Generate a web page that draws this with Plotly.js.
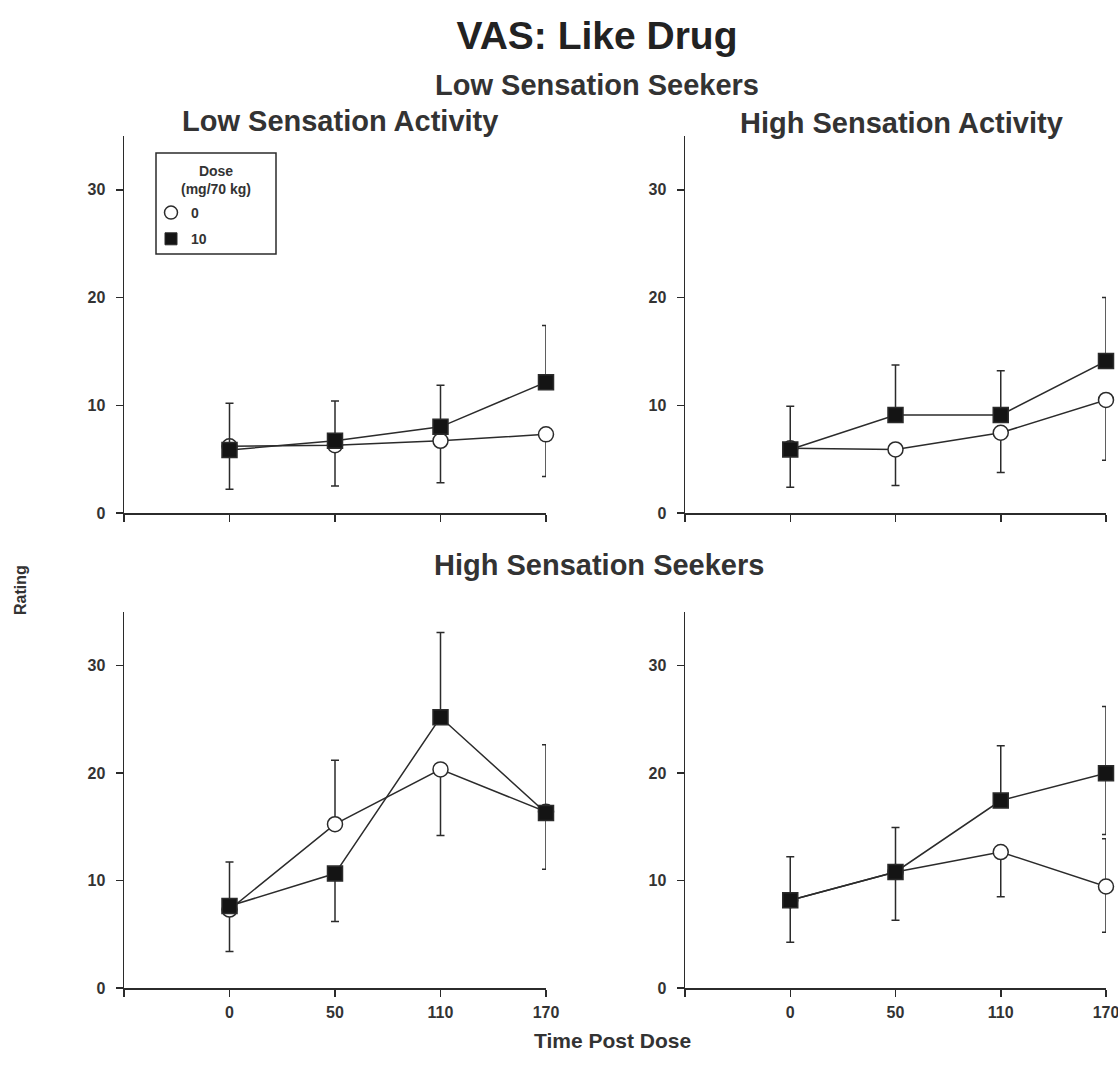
<!DOCTYPE html>
<html>
<head>
<meta charset="utf-8">
<script src="https://cdn.plot.ly/plotly-3.0.1.min.js"></script>
<style>html,body{margin:0;padding:0;background:#fff;}#chart{width:1118px;height:1076px;}</style>
</head>
<body>
<div id="chart"></div>
<script>
// Time points (minutes post dose)
var timeLabels = ["0", "50", "110", "170"];
var timeIndex = [0, 1, 2, 3];
var doseLabels = ["0", "10"];

// Error bars are drawn one-sided (outward); 0 = not drawn
// Low Sensation Seekers – Low Sensation Activity
var placeboLSS_LSA = [6.2, 6.3, 6.7, 7.3];
var placeboLSS_LSA_up = [0, 0, 0, 0];
var placeboLSS_LSA_dn = [4.0, 3.8, 3.9, 3.9];
var drugLSS_LSA = [5.85, 6.7, 8.0, 12.15];
var drugLSS_LSA_up = [4.35, 3.7, 3.85, 5.25];
var drugLSS_LSA_dn = [0, 0, 0, 0];

// Low Sensation Seekers – High Sensation Activity
var placeboLSS_HSA = [6.0, 5.9, 7.45, 10.5];
var placeboLSS_HSA_up = [0, 0, 0, 0];
var placeboLSS_HSA_dn = [3.6, 3.35, 3.7, 5.6];
var drugLSS_HSA = [5.9, 9.1, 9.1, 14.1];
var drugLSS_HSA_up = [4.0, 4.65, 4.1, 5.9];
var drugLSS_HSA_dn = [0, 0, 0, 0];

// High Sensation Seekers – Low Sensation Activity
var placeboHSS_LSA = [7.3, 15.25, 20.35, 16.4];
var placeboHSS_LSA_up = [0, 5.95, 0, 0];
var placeboHSS_LSA_dn = [3.9, 0, 6.15, 5.35];
var drugHSS_LSA = [7.63, 10.65, 25.2, 16.3];
var drugHSS_LSA_up = [4.1, 0, 7.9, 6.35];
var drugHSS_LSA_dn = [0, 4.45, 0, 0];

// High Sensation Seekers – High Sensation Activity
var placeboHSS_HSA = [8.17, 10.8, 12.65, 9.45];
var placeboHSS_HSA_up = [0, 0, 0, 4.45];
var placeboHSS_HSA_dn = [3.9, 4.5, 4.15, 4.25];
var drugHSS_HSA = [8.17, 10.8, 17.45, 20.0];
var drugHSS_HSA_up = [4.05, 4.15, 5.1, 6.2];
var drugHSS_HSA_dn = [0, 0, 0, 5.7];

var ink = "#2b2b2b";
var txt = "#333333";
var FONT = "Liberation Sans, Arial, Helvetica, sans-serif";

var placeboMarker = {symbol: "circle", size: 15, color: "#ffffff", line: {color: ink, width: 1.5}};
var drugMarker = {symbol: "square", size: 15, color: "#141414", line: {color: ink, width: 1.5}};

function seriesTrace(y, up, dn, xa, ya, marker) {
  return {
    x: timeIndex, y: y, xaxis: xa, yaxis: ya, type: "scatter", mode: "lines+markers",
    showlegend: false, cliponaxis: false,
    line: {color: ink, width: 1.5},
    marker: marker,
    error_y: {type: "data", symmetric: false, array: up, arrayminus: dn, visible: true,
      color: ink, thickness: 1.5, width: 4}
  };
}
function legendTrace(name, marker, group) {
  return {x: [null], y: [null], xaxis: "x", yaxis: "y", type: "scatter", mode: "markers",
    name: name, legendgroup: group, showlegend: true, marker: marker};
}

var data = [
  seriesTrace(placeboLSS_LSA, placeboLSS_LSA_up, placeboLSS_LSA_dn, "x", "y", placeboMarker),
  seriesTrace(drugLSS_LSA, drugLSS_LSA_up, drugLSS_LSA_dn, "x", "y", drugMarker),
  seriesTrace(placeboLSS_HSA, placeboLSS_HSA_up, placeboLSS_HSA_dn, "x2", "y2", placeboMarker),
  seriesTrace(drugLSS_HSA, drugLSS_HSA_up, drugLSS_HSA_dn, "x2", "y2", drugMarker),
  seriesTrace(placeboHSS_LSA, placeboHSS_LSA_up, placeboHSS_LSA_dn, "x3", "y3", placeboMarker),
  seriesTrace(drugHSS_LSA, drugHSS_LSA_up, drugHSS_LSA_dn, "x3", "y3", drugMarker),
  seriesTrace(placeboHSS_HSA, placeboHSS_HSA_up, placeboHSS_HSA_dn, "x4", "y4", placeboMarker),
  seriesTrace(drugHSS_HSA, drugHSS_HSA_up, drugHSS_HSA_dn, "x4", "y4", drugMarker),
  legendTrace(doseLabels[0], {symbol: "circle", size: 13, color: "#ffffff", line: {color: ink, width: 1.5}}, "p"),
  legendTrace(doseLabels[1], {symbol: "square", size: 12, color: "#141414", line: {color: ink, width: 1}}, "d")
];

function xAxis(domain, anchor, labels) {
  return {
    domain: domain, anchor: anchor, range: [-1, 3],
    tickvals: [-1].concat(timeIndex), ticktext: [""].concat(timeLabels),
    showticklabels: labels, ticks: "outside", ticklen: 7, tickwidth: 1.5, tickcolor: ink,
    showline: true, linecolor: ink, linewidth: 1.5, showgrid: false, zeroline: false,
    ticklabeloverflow: "allow", ticklabelstandoff: 2,
    tickfont: {family: FONT, size: 16, color: txt, weight: "bold"}
  };
}
function yAxis(domain, anchor) {
  return {
    domain: domain, anchor: anchor, range: [0, 35],
    tickvals: [0, 10, 20, 30], ticks: "outside", ticklen: 7, tickwidth: 1.5, tickcolor: ink,
    showline: true, linecolor: ink, linewidth: 1.5, showgrid: false, zeroline: false,
    ticklabelstandoff: 7,
    tickfont: {family: FONT, size: 16, color: txt, weight: "bold"}
  };
}

var dxL = [124 / 1118, 546 / 1118], dxR = [685 / 1118, 1106 / 1118];
var dyT = [1 - 513 / 1076, 1 - 136 / 1076], dyB = [1 - 988 / 1076, 1 - 612 / 1076];

function ann(text, x, y, size, extra) {
  var a = {text: text, x: x, y: y, xref: "paper", yref: "paper", showarrow: false,
    xanchor: "center", yanchor: "middle",
    font: {family: FONT, size: size, color: txt, weight: "bold"}};
  for (var k in extra) a[k] = extra[k];
  return a;
}

var layout = {
  width: 1118, height: 1076,
  margin: {l: 0, r: 0, t: 0, b: 0},
  paper_bgcolor: "#ffffff", plot_bgcolor: "#ffffff",
  title: {text: "VAS: Like Drug", x: 0.534, xanchor: "center", y: 1 - 35 / 1076, yanchor: "middle",
    font: {family: FONT, size: 39, color: "#222222", weight: "bold"}},
  xaxis: xAxis(dxL, "y", false), yaxis: yAxis(dyT, "x"),
  xaxis2: xAxis(dxR, "y2", false), yaxis2: yAxis(dyT, "x2"),
  xaxis3: xAxis(dxL, "y3", true), yaxis3: yAxis(dyB, "x3"),
  xaxis4: xAxis(dxR, "y4", true), yaxis4: yAxis(dyB, "x4"),
  showlegend: true,
  legend: {
    x: 151 / 1118, y: 1 - 197 / 1076, xanchor: "left", yanchor: "top",
    bgcolor: "rgba(0,0,0,0)", borderwidth: 0,
    font: {family: FONT, size: 14, color: txt, weight: "bold"},
    tracegroupgap: 5, itemwidth: 30
  },
  shapes: [
    {type: "rect", xref: "paper", yref: "paper",
      x0: 156 / 1118, x1: 276 / 1118, y0: 1 - 254 / 1076, y1: 1 - 153 / 1076,
      line: {color: ink, width: 1.5}, fillcolor: "rgba(0,0,0,0)", layer: "above"}
  ],
  annotations: [
    ann("Dose<br>(mg/70 kg)", 216 / 1118, 1 - 180 / 1076, 14, {align: "center"}),
    ann("Low Sensation Seekers", 0.534, 1 - 85 / 1076, 29),
    ann("Low Sensation Activity", 340 / 1118, 1 - 121 / 1076, 29),
    ann("High Sensation Activity", 901 / 1118, 1 - 123 / 1076, 29),
    ann("High Sensation Seekers", 599 / 1118, 1 - 565 / 1076, 29),
    ann("Rating", 20 / 1118, 1 - 590 / 1076, 16, {textangle: -90}),
    ann("Time Post Dose", 612 / 1118, 1 - 1040 / 1076, 21)
  ]
};

Plotly.newPlot("chart", data, layout, {staticPlot: true, displayModeBar: false});
</script>
</body>
</html>
